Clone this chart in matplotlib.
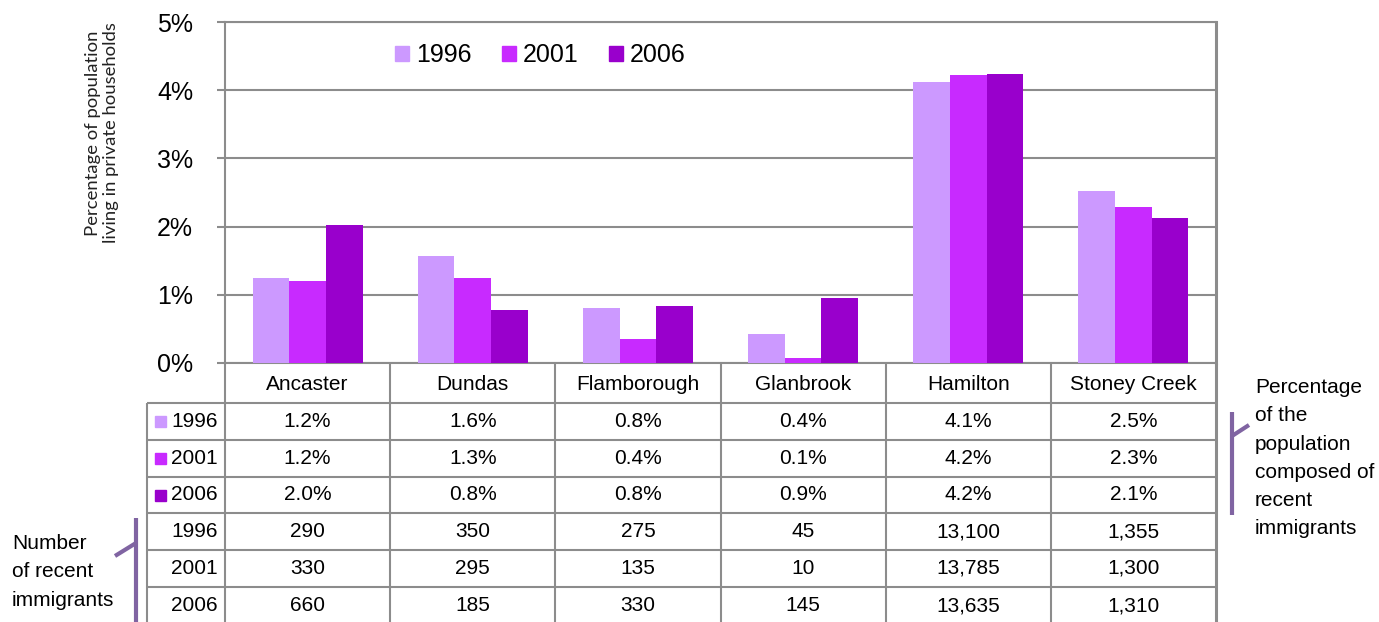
import matplotlib
matplotlib.use('Agg')
import matplotlib.pyplot as plt
from matplotlib.patches import Rectangle
from matplotlib.ticker import FuncFormatter

# ---------------- data ----------------
categories = ['Ancaster', 'Dundas', 'Flamborough', 'Glanbrook', 'Hamilton', 'Stoney Creek']
years = ['1996', '2001', '2006']
pct_1996 = [1.25, 1.57, 0.81, 0.43, 4.12, 2.52]
pct_2001 = [1.20, 1.25, 0.35, 0.07, 4.22, 2.29]
pct_2006 = [2.02, 0.77, 0.84, 0.95, 4.24, 2.13]
pct_labels_1996 = ['1.2%', '1.6%', '0.8%', '0.4%', '4.1%', '2.5%']
pct_labels_2001 = ['1.2%', '1.3%', '0.4%', '0.1%', '4.2%', '2.3%']
pct_labels_2006 = ['2.0%', '0.8%', '0.8%', '0.9%', '4.2%', '2.1%']
count_1996 = ['290', '350', '275', '45', '13,100', '1,355']
count_2001 = ['330', '295', '135', '10', '13,785', '1,300']
count_2006 = ['660', '185', '330', '145', '13,635', '1,310']
yticks = [0, 1, 2, 3, 4, 5]
ylabel = 'Percentage of population\nliving in private households'
note_right = 'Percentage\nof the\npopulation\ncomposed of\nrecent\nimmigrants'
note_left = 'Number\nof recent\nimmigrants'

colors = ['#CC99FF', '#C82AFF', '#9900CC']
grid_c = '#8C8C8C'
bracket_c = '#8064A2'
font = 'Liberation Sans'

W, H = 1379, 622
fig = plt.figure(figsize=(W / 100, H / 100), dpi=100)

# main bar axes
ax_l, ax_r, ax_t, ax_b = 225, 1216, 22, 363
ax = fig.add_axes([ax_l / W, (H - ax_b) / H, (ax_r - ax_l) / W, (ax_b - ax_t) / H])
series = [pct_1996, pct_2001, pct_2006]
bw = 0.222
for j, vals in enumerate(series):
    xs = [i + (j - 1) * bw for i in range(len(categories))]
    ax.bar(xs, vals, width=bw, color=colors[j], zorder=3, label=years[j])
ax.set_xlim(-0.5, len(categories) - 0.5)
ax.set_ylim(0, 5)
ax.set_yticks(yticks)
ax.yaxis.set_major_formatter(FuncFormatter(lambda v, p: f'{int(v)}%'))
ax.set_xticks([])
ax.grid(axis='y', color=grid_c, linewidth=1.5, zorder=0)
ax.tick_params(axis='y', length=6, width=1.5, color=grid_c, pad=17,
               labelsize=18)
for lab in ax.get_yticklabels():
    lab.set_fontfamily(font)
for s in ['left', 'bottom', 'top']:
    ax.spines[s].set_color(grid_c)
    ax.spines[s].set_linewidth(1.5)
ax.spines['right'].set_color(grid_c)
ax.spines['right'].set_linewidth(2.2)

handles = [Rectangle((0, 0), 1, 1, color=c) for c in colors]
ax.legend(handles, years, ncol=3, frameon=False, loc='center left',
          bbox_to_anchor=(395 / W, 1 - 55 / H), bbox_transform=fig.transFigure,
          prop={'family': font, 'size': 18}, handlelength=0.55, handleheight=0.55,
          handletextpad=0.3, columnspacing=1.2, borderaxespad=0, borderpad=0)

fig.text(102 / W, 1 - 133 / H, ylabel, rotation=90, ha='center', va='center',
         multialignment='center', fontfamily='Lato', fontsize=13.3, linespacing=1.15,
         color='#222222')

# ---------------- table overlay (pixel coordinates) ----------------
ov = fig.add_axes([0, 0, 1, 1], zorder=-1)
ov.set_xlim(0, W)
ov.set_ylim(H, 0)
ov.axis('off')

col_edges = []
for i in range(len(categories) + 1):
    xd, _ = ax.transData.transform((i - 0.5, 0))
    col_edges.append(xd)
col_centers = [(col_edges[i] + col_edges[i + 1]) / 2 for i in range(len(categories))]

row_edges = [403, 440, 477, 513, 550, 587, 624]
row_centers = [(row_edges[k] + row_edges[k + 1]) / 2 for k in range(6)]
left_x = 147

for y in row_edges[:-1]:
    ov.plot([left_x, ax_r], [y, y], color=grid_c, lw=1.5, solid_capstyle='butt')
for k, x in enumerate(col_edges):
    ov.plot([x, x], [ax_b, H], color=grid_c, lw=2.2 if k == len(col_edges) - 1 else 1.5,
            solid_capstyle='butt')
ov.plot([left_x, left_x], [row_edges[0], H], color=grid_c, lw=1.5, solid_capstyle='butt')

for i, c in enumerate(categories):
    ov.text(col_centers[i], 384, c, ha='center', va='center', fontfamily=font, fontsize=15)

rows = [pct_labels_1996, pct_labels_2001, pct_labels_2006, count_1996, count_2001, count_2006]
row_years = years + years
for k, row in enumerate(rows):
    yc = row_centers[k]
    for i, v in enumerate(row):
        ov.text(col_centers[i], yc, v, ha='center', va='center', fontfamily=font, fontsize=15)
    ov.text(218, yc, row_years[k], ha='right', va='center', fontfamily=font, fontsize=15)
    if k < 3:
        ov.add_patch(Rectangle((155, yc - 5.5), 11, 11, color=colors[k]))

# brackets
ov.plot([1232, 1232], [412, 515], color=bracket_c, lw=3, solid_capstyle='butt')
ov.plot([1232, 1249], [436, 425], color=bracket_c, lw=3, solid_capstyle='butt')
ov.plot([136, 136], [518, 622], color=bracket_c, lw=3, solid_capstyle='butt')
ov.plot([136, 115], [543, 556], color=bracket_c, lw=3, solid_capstyle='butt')

ov.text(1255, 378, note_right, ha='left', va='top', fontfamily=font, fontsize=15,
        linespacing=1.62)
ov.text(12, 534, note_left, ha='left', va='top', fontfamily=font, fontsize=15,
        linespacing=1.62)

fig.savefig('out.png', dpi=100)
